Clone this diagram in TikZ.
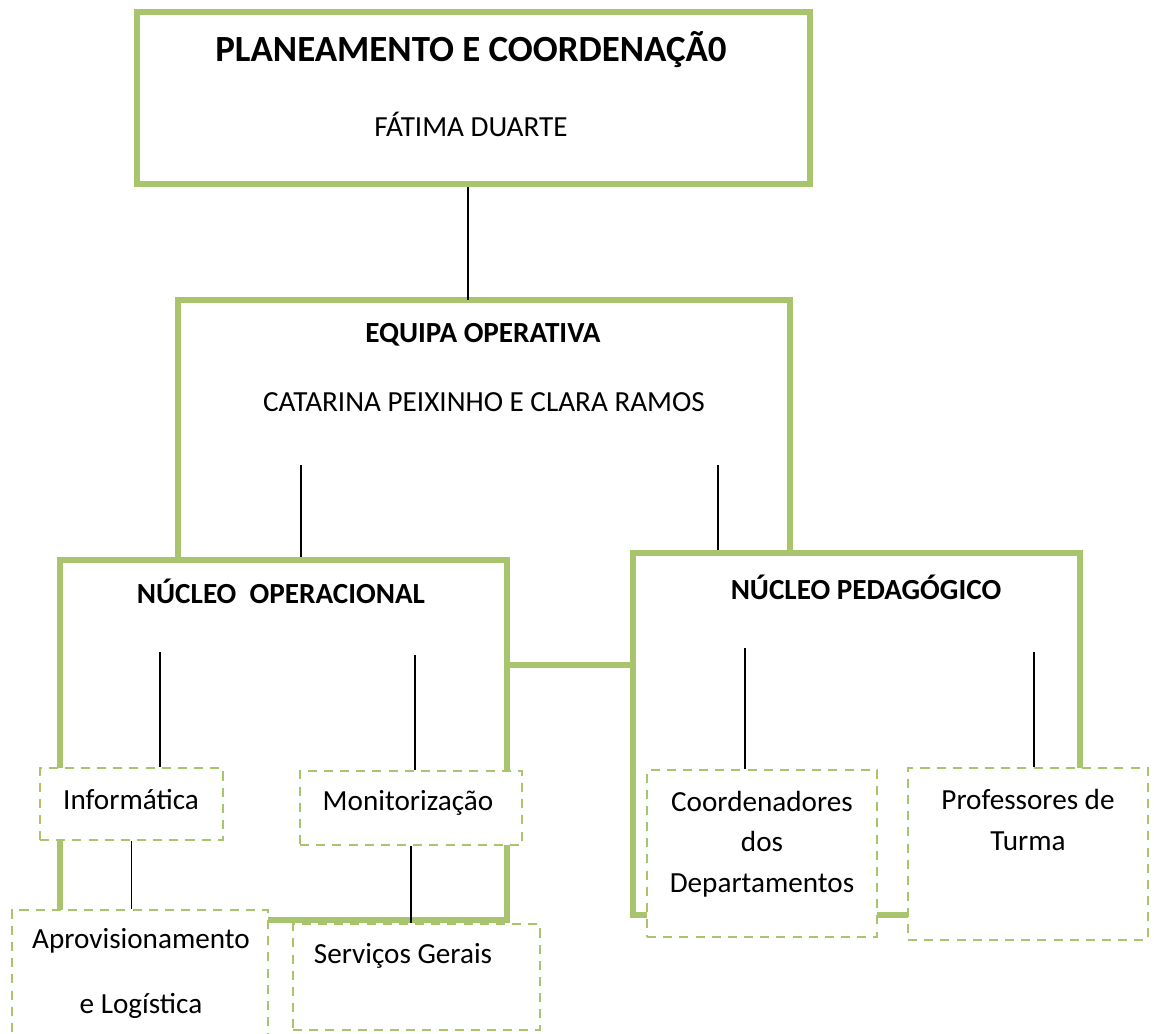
\documentclass[tikz,border=0pt]{standalone}
\usepackage{fontspec}
\setmainfont{Carlito}
\usepackage{tikz}
\definecolor{olive}{RGB}{168,196,108}
\tikzset{
  mainbox/.style={draw=olive, line width=3.8pt, rectangle, inner sep=0pt},
  subbox/.style={draw=olive, line width=1.5pt, dash pattern=on 5.2pt off 4pt, fill=white, rectangle, inner sep=0pt},
  link/.style={draw=olive, line width=3.8pt},
  conn/.style={draw=black, line width=0.85pt},
  label/.style={font=\fontsize{16.6}{20}\selectfont, align=center},
  head/.style={font=\fontsize{16.6}{20}\selectfont\bfseries}
}

\begin{document}
\begin{tikzpicture}[x=0.02cm, y=-0.02cm]
  \useasboundingbox (0,0) rectangle (1154,1034);

  \node[mainbox, minimum width=13.46cm, minimum height=3.44cm] (plan) at (473.5,98) {};
  \node[font=\fontsize{21}{25}\selectfont\bfseries] (plantitle) at (471,50) {PLANEAMENTO E COORDENAÇÃ0};
  \node[label] (planname) at (471,124) {FÁTIMA DUARTE};

  \draw[link, line join=miter] (178,557) -- (178,300) -- (790,300) -- (790,554);
  \coordinate (eqtop) at (468,300);
  \node[head] (eqtitle) at (483,335) {EQUIPA OPERATIVA};
  \node[label] (eqname) at (484,402) {CATARINA PEIXINHO E CLARA RAMOS};

  \node[mainbox, minimum width=8.94cm, minimum height=7.2cm] (oper) at (283.5,740) {};
  \node[mainbox, minimum width=8.94cm, minimum height=7.24cm] (ped) at (856.5,734) {};
  \node[head] (opertitle) at (281,591) {NÚCLEO\ \ OPERACIONAL};
  \node[head] (pedtitle) at (866,587) {NÚCLEO PEDAGÓGICO};

  \coordinate (mid) at (570,665);
  \path[link] (mid -| oper.east) -- (mid -| ped.west);

  \node[subbox, minimum width=3.66cm, minimum height=1.44cm] (info) at (131.5,804) {};
  \node[subbox, minimum width=4.44cm, minimum height=1.48cm] (moni) at (411,808) {};
  \node[subbox, minimum width=5.12cm, minimum height=2.7cm] (aprov) at (140,977.5) {};
  \node[subbox, minimum width=4.94cm, minimum height=2.12cm] (serv) at (416.5,977) {};
  \node[subbox, minimum width=4.6cm, minimum height=3.34cm] (coord) at (762,853.5) {};
  \node[subbox, minimum width=4.8cm, minimum height=3.44cm] (prof) at (1028,854) {};

  \node[label] (infotext) at (131,800) {Informática};
  \node[label] (monitext) at (408,803) {Monitorização};
  \node[label] (aprovtext) at (141,973) {Aprovisionamento\\[17pt]e Logística};
  \node[label] (servtext) at (403,956) {Serviços Gerais};
  \node[label] (coordtext) at (762,844) {Coordenadores\\[3pt]dos\\[3pt]Departamentos};
  \node[label] (proftext) at (1028,820) {Professores de\\[3pt]Turma};

  \coordinate (eqL) at (301,465);
  \coordinate (eqR) at (718,465);
  \coordinate (opL) at (160,652);
  \coordinate (opR) at (415,655);
  \coordinate (pdL) at (745,648);
  \coordinate (pdR) at (1034,652);

  \path[conn] (eqtop |- plan.south) -- (eqtop);
  \path[conn] (eqL) -- (eqL |- oper.north);
  \path[conn] (eqR) -- (eqR |- ped.north);
  \path[conn] (opL) -- (opL |- info.north);
  \path[conn] (opR) -- (opR |- moni.north);
  \path[conn] (info.south) -- (info.south |- aprov.north);
  \path[conn] (moni.south) -- (moni.south |- serv.north);
  \path[conn] (pdL) -- (pdL |- coord.north);
  \path[conn] (pdR) -- (pdR |- prof.north);
\end{tikzpicture}
\end{document}
